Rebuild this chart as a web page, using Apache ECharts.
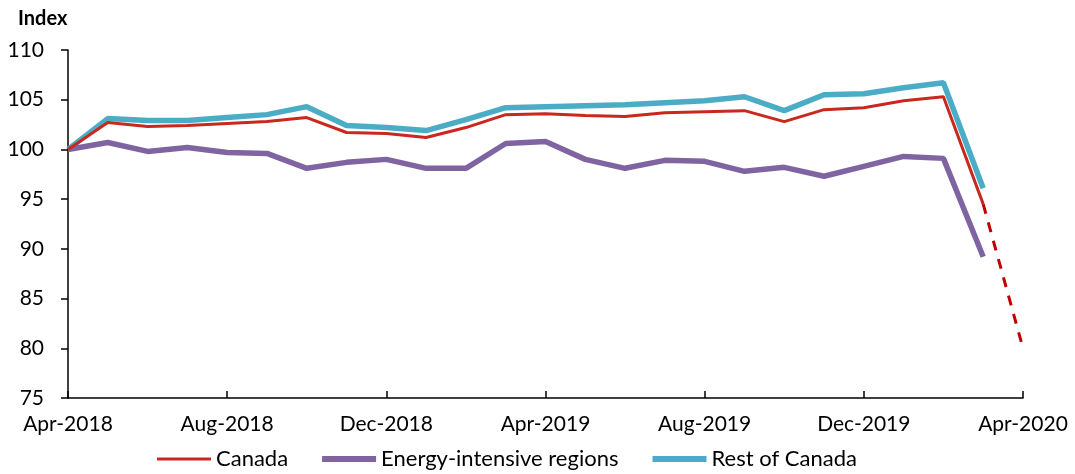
<!DOCTYPE html>
<html>
<head>
<meta charset="utf-8">
<script src="https://cdn.jsdelivr.net/npm/echarts@6/dist/echarts.min.js"></script>
<style>
  html, body { margin: 0; padding: 0; background: #fff; }
  #chart { width: 1075px; height: 474px; }
</style>
</head>
<body>
<div id="chart"></div>
<script>
// 月份（Apr-2018 到 Apr-2020）
var months = ['Apr-2018','May-2018','Jun-2018','Jul-2018','Aug-2018','Sep-2018','Oct-2018','Nov-2018','Dec-2018',
    'Jan-2019','Feb-2019','Mar-2019','Apr-2019','May-2019','Jun-2019','Jul-2019','Aug-2019','Sep-2019','Oct-2019',
    'Nov-2019','Dec-2019','Jan-2020','Feb-2020','Mar-2020','Apr-2020'];
// 各系列数值
var canada = [100, 102.7, 102.3, 102.4, 102.6, 102.8, 103.2, 101.7, 101.6, 101.2, 102.2, 103.5, 103.6,
    103.4, 103.3, 103.7, 103.8, 103.9, 102.8, 104.0, 104.2, 104.9, 105.3, 94.5, null];
var canadaEstimate = [null, null, null, null, null, null, null, null, null, null, null, null, null,
    null, null, null, null, null, null, null, null, null, null, 94.5, 80];
var energy = [100, 100.7, 99.8, 100.2, 99.7, 99.6, 98.1, 98.7, 99.0, 98.1, 98.1, 100.6, 100.8,
    99.0, 98.1, 98.9, 98.8, 97.8, 98.2, 97.3, 98.3, 99.3, 99.1, 89.2, null];
var restOfCanada = [100, 103.1, 102.9, 102.9, 103.2, 103.5, 104.3, 102.4, 102.2, 101.9, 103.0, 104.2, 104.3,
    104.4, 104.5, 104.7, 104.9, 105.3, 103.9, 105.5, 105.6, 106.2, 106.7, 96.1, null];

var fontName = 'Lato, "Liberation Sans", sans-serif';

var chart = echarts.init(document.getElementById('chart'));

var option = {
    animation: false,
    title: {
        text: 'Index',
        left: 13,
        top: 4,
        textStyle: { fontFamily: fontName, fontSize: 20, fontWeight: 'bold', color: '#000' }
    },
    legend: {
        top: 443,
        left: 152,
        itemWidth: 54,
        itemHeight: 14,
        itemGap: 34,
        textStyle: { fontFamily: fontName, fontSize: 22, color: '#000' },
        data: [
            { name: 'Canada', icon: 'path://M0,0 L54,0 L54,3 L0,3 Z' },
            { name: 'Energy-intensive regions', icon: 'path://M0,0 L54,0 L54,6 L0,6 Z' },
            { name: 'Rest of Canada', icon: 'path://M0,0 L54,0 L54,6 L0,6 Z' }
        ]
    },
    grid: { left: 68, right: 52, top: 50, bottom: 76, containLabel: false },
    xAxis: {
        type: 'category',
        data: months,
        boundaryGap: false,
        axisLine: { lineStyle: { color: '#000', width: 1.5 } },
        axisTick: { inside: true, length: 7, interval: 3, alignWithLabel: true, lineStyle: { color: '#000', width: 1.5 } },
        axisLabel: { interval: 3, margin: 16, fontFamily: fontName, fontSize: 21, color: '#000' },
        splitLine: { show: false }
    },
    yAxis: {
        type: 'value',
        min: 75,
        max: 110,
        interval: 5,
        axisLine: { show: true, lineStyle: { color: '#000', width: 1.5 } },
        axisTick: { show: true, length: 7, lineStyle: { color: '#000', width: 1.5 } },
        axisLabel: { margin: 24, fontFamily: fontName, fontSize: 21, color: '#000' },
        splitLine: { show: false }
    },
    series: [
        {
            name: 'Canada',
            type: 'line',
            data: canada,
            symbol: 'none',
            z: 4,
            lineStyle: { color: '#c8281e', width: 3 },
            itemStyle: { color: '#c8281e' }
        },
        {
            name: 'Canada',
            type: 'line',
            data: canadaEstimate,
            symbol: 'none',
            z: 4,
            lineStyle: { color: '#c00000', width: 3, type: [10, 9] },
            itemStyle: { color: '#c8281e' }
        },
        {
            name: 'Energy-intensive regions',
            type: 'line',
            data: energy,
            symbol: 'none',
            z: 3,
            lineStyle: { color: '#8064a2', width: 5.5 },
            itemStyle: { color: '#8064a2' }
        },
        {
            name: 'Rest of Canada',
            type: 'line',
            data: restOfCanada,
            symbol: 'none',
            z: 2,
            lineStyle: { color: '#4bacc6', width: 5.5 },
            itemStyle: { color: '#4bacc6' }
        }
    ]
};

chart.setOption(option);
</script>
</body>
</html>
